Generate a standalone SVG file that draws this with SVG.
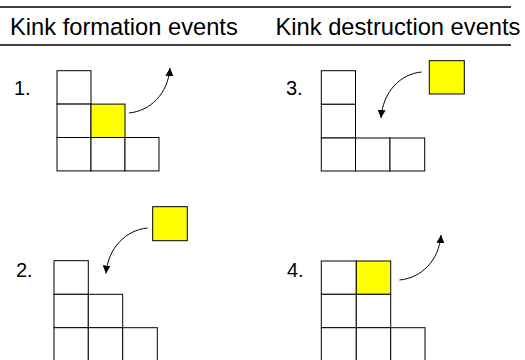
<svg xmlns="http://www.w3.org/2000/svg" width="525" height="360" viewBox="0 0 525 360">
  <style>
    .hdr { font-family: "Liberation Sans", Arial, sans-serif; font-size: 23.7px; fill: #000; }
    .num { font-family: "Liberation Sans", Arial, sans-serif; font-size: 20px; fill: #000; }
    .rule { stroke: #000; stroke-width: 1.5; }
    .cell { fill: #fff; stroke: #000; stroke-width: 1; }
    .atom { fill: #ffff00; stroke: #000; stroke-width: 1; }
    .move { fill: none; stroke: #000; stroke-width: 1; marker-end: url(#head); }
  </style>
  <defs>
    <marker id="head" viewBox="0 0 10 10" refX="10" refY="5" markerWidth="8" markerHeight="8" markerUnits="userSpaceOnUse" orient="auto">
      <path d="M0,0 L10,5 L0,10 Z" fill="#000"/>
    </marker>
  </defs>

  <rect width="525" height="360" fill="#fff"/>

  <!-- table header -->
  <g id="header">
    <line class="rule" x1="0" y1="7" x2="511" y2="7"/>
    <line class="rule" x1="0" y1="45" x2="511" y2="45"/>
    <text class="hdr" x="10" y="35">Kink formation events</text>
    <text class="hdr" x="275.5" y="35">Kink destruction events</text>
  </g>

  <!-- event 1: kink atom leaves the step -->
  <g id="event1">
    <text class="num" x="14" y="94.5">1.</text>
    <rect class="cell" x="57" y="70.7" width="34" height="33.4"/>
    <rect class="cell" x="57" y="104.1" width="34" height="33.4"/>
    <rect class="atom" x="91" y="104.1" width="34" height="33.4"/>
    <rect class="cell" x="57" y="137.5" width="34" height="33.4"/>
    <rect class="cell" x="91" y="137.5" width="34" height="33.4"/>
    <rect class="cell" x="125" y="137.5" width="34" height="33.4"/>
  </g>

  <!-- event 3: atom fills the corner -->
  <g id="event3">
    <text class="num" x="286" y="95">3.</text>
    <rect class="cell" x="321.3" y="70.7" width="34.2" height="33.6"/>
    <rect class="cell" x="321.3" y="104.3" width="34.2" height="33.7"/>
    <rect class="cell" x="321.3" y="138" width="34.2" height="33"/>
    <rect class="cell" x="355.5" y="138" width="34.5" height="33"/>
    <rect class="cell" x="390" y="138" width="34.7" height="33"/>
    <rect class="atom" x="429.3" y="60.7" width="35" height="33.3"/>
  </g>

  <!-- event 2: atom lands on a flat terrace step -->
  <g id="event2">
    <text class="num" x="16" y="277">2.</text>
    <rect class="cell" x="54" y="260.7" width="34.3" height="33.6"/>
    <rect class="cell" x="54" y="294.3" width="34.3" height="33.4"/>
    <rect class="cell" x="54" y="327.7" width="34.3" height="33.3"/>
    <rect class="cell" x="88.3" y="294.3" width="34.4" height="33.4"/>
    <rect class="cell" x="88.3" y="327.7" width="34.4" height="33.3"/>
    <rect class="cell" x="122.7" y="327.7" width="34.6" height="33.3"/>
    <rect class="atom" x="152.7" y="206.7" width="34.6" height="34"/>
  </g>

  <!-- event 4: atom leaves a flat terrace step -->
  <g id="event4">
    <text class="num" x="287" y="277">4.</text>
    <rect class="cell" x="321.3" y="261" width="35" height="33.3"/>
    <rect class="cell" x="321.3" y="294.3" width="35" height="33.4"/>
    <rect class="cell" x="321.3" y="327.7" width="35" height="33.3"/>
    <rect class="atom" x="356.3" y="261" width="34.4" height="33.3"/>
    <rect class="cell" x="356.3" y="294.3" width="34.4" height="33.4"/>
    <rect class="cell" x="356.3" y="327.7" width="34.4" height="33.3"/>
    <rect class="cell" x="390.7" y="327.7" width="34.3" height="33.3"/>
  </g>

  <!-- curved arrows -->
  <g id="connectors">
    <path class="move" d="M129,113 C150,111 168,94 170,68"/>
    <path class="move" d="M421.5,72 C400,74 383,92 381,118"/>
    <path class="move" d="M147.5,228 C126,230 108,248 106,273.5"/>
    <path class="move" d="M399.5,280 C421,278 439,261 441,235"/>
  </g>
</svg>
